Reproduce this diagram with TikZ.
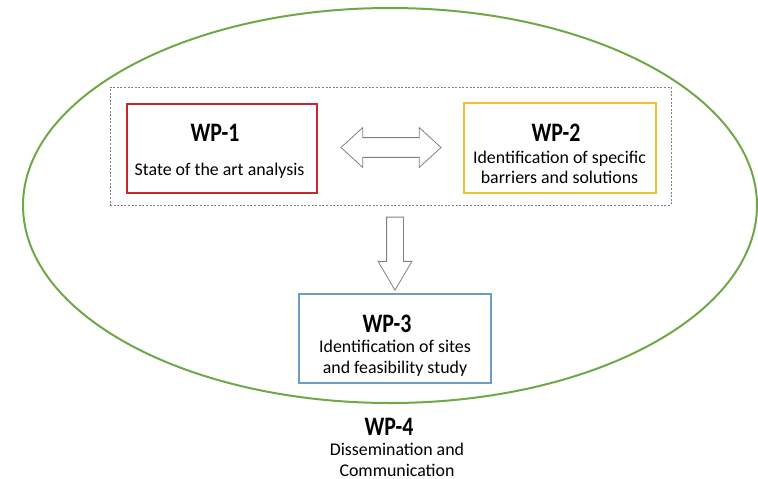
\documentclass[tikz,border=0pt]{standalone}
\usepackage{xcolor}
\usepackage{fontspec}
\setmainfont{Carlito}
\newfontfamily\wpheadfont[FakeStretch=0.82]{Carlito}
\usepackage{tikz}
\usetikzlibrary{shapes.geometric,shapes.arrows}

\definecolor{wpgreen}{RGB}{112,168,72}
\definecolor{wpred}{RGB}{200,40,45}
\definecolor{wpyellow}{RGB}{238,196,48}
\definecolor{wpblue}{RGB}{110,155,200}

\begin{document}
\begin{tikzpicture}[x=0.75pt,y=-0.75pt]
			\tikzstyle{package} = [draw, line width=1.5pt, minimum width=144pt, minimum height=67pt, inner sep=0pt]
			\tikzstyle{wptitle} = [font=\wpheadfont\bfseries\fontsize{20}{22}\selectfont, inner sep=0pt]
			\tikzstyle{wptext} = [font=\fontsize{13.4}{15.5}\selectfont, align=center, inner sep=0pt]
			\tikzstyle{blockarrow} = [draw=gray, fill=white, line width=0.6pt]
			
			\useasboundingbox (0,0) rectangle (758,479);
			
			\node[ellipse, draw=wpgreen, line width=1.5pt, minimum width=550.5pt, minimum height=296.25pt](wp4area) at (390,205.5) {};
			\node[draw=gray, dash pattern=on 1.5pt off 1.2pt, line width=0.6pt, minimum width=420.75pt, minimum height=88.5pt](phase1) at (390.5,146) {};
			
			\node[package, draw=wpred, minimum width=142.5pt](wp1) at (222,148.5) {};
			\node[wptitle](wp1title) at (215,133) {WP-1};
			\node[wptext](wp1text) at (219.5,171) {State of the art analysis};
			
			\node[package, draw=wpyellow](wp2) at (560,148) {};
			\node[wptitle](wp2title) at (556,133) {WP-2};
			\node[wptext](wp2text) at (559.5,167.5) {Identification of specific\\barriers and solutions};
			
			\node[package, draw=wpblue](wp3) at (395,338.5) {};
			\node[wptitle](wp3title) at (387,324) {WP-3};
			\node[wptext](wp3text) at (395,358) {Identification of sites\\and feasibility study};
			
			\node[wptitle](wp4title) at (389,427) {WP-4};
			\node[wptext](wp4text) at (397,460) {Dissemination and\\Communication};
			
			\node[blockarrow, double arrow, double arrow tip angle=85, double arrow head extend=7.5pt, inner sep=7.1pt, minimum height=75pt](exchange) at (391,147.5) {};
			\node[blockarrow, single arrow, shape border rotate=270, single arrow tip angle=61, single arrow head extend=6.4pt, inner sep=6pt, minimum height=54.75pt](towp3) at (395,246.5) {};
			
\end{tikzpicture}
\end{document}
